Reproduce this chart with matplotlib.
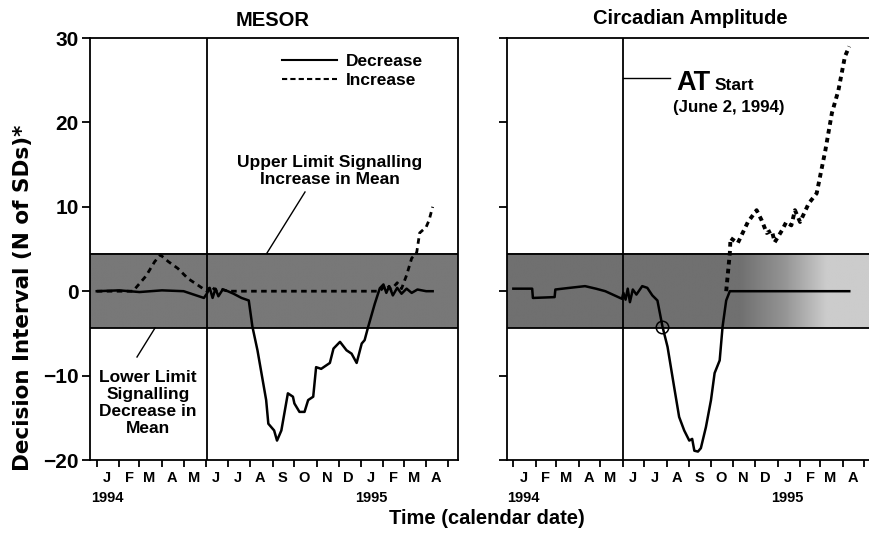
#Decision interval CUSUM charts: MESOR and circadian amplitude
import matplotlib
matplotlib.use('Agg')
import matplotlib.pyplot as plt
import matplotlib.dates as mdates
from matplotlib.lines import Line2D
import numpy as np
import pandas as pd

plt.rcParams['font.family'] = ['Liberation Sans', 'DejaVu Sans']
plt.rcParams['font.weight'] = 'bold'

#################################################################################
# Data
#################################################################################
# MESOR, decrease (solid)
t_mesor_dec = ['1994-01-01', '1994-02-01', '1994-03-01', '1994-04-01', '1994-05-01',
               '1994-05-29', '1994-06-02', '1994-06-06', '1994-06-10', '1994-06-14',
               '1994-06-18', '1994-06-24', '1994-07-01', '1994-07-09', '1994-07-20',
               '1994-07-30', '1994-08-04', '1994-08-11', '1994-08-23', '1994-08-26',
               '1994-09-03', '1994-09-07', '1994-09-13', '1994-09-22', '1994-09-29',
               '1994-10-01', '1994-10-08', '1994-10-15', '1994-10-20', '1994-10-27',
               '1994-10-31', '1994-11-07', '1994-11-19', '1994-11-24', '1994-12-03',
               '1994-12-12', '1994-12-19', '1994-12-26', '1995-01-02', '1995-01-06',
               '1995-01-11', '1995-01-20', '1995-01-27', '1995-02-01', '1995-02-05',
               '1995-02-09', '1995-02-14', '1995-02-20', '1995-02-26', '1995-03-05',
               '1995-03-12', '1995-03-20', '1995-04-01', '1995-04-10']
mesor_dec = [0.0, 0.1, -0.1, 0.1, 0.0,
             -0.8, -0.3, 0.4, -0.8, 0.3,
             -0.6, 0.2, 0.0, -0.3, -0.8,
             -1.1, -4.2, -7.0, -12.9, -15.7,
             -16.5, -17.7, -16.5, -12.1, -12.5,
             -13.3, -14.3, -14.3, -12.9, -12.5,
             -9.0, -9.2, -8.5, -6.8, -6.0,
             -7.0, -7.4, -8.5, -6.2, -5.8,
             -4.2, -1.5, 0.35, 0.8, -0.2,
             0.6, -0.5, 0.4, -0.3, 0.3,
             -0.2, 0.2, 0.0, 0.0]

# MESOR, increase (dashed)
t_mesor_inc = ['1994-01-01', '1994-02-20', '1994-03-10', '1994-03-22', '1994-03-30',
               '1994-04-10', '1994-04-23', '1994-05-07', '1994-05-21', '1994-06-02',
               '1994-06-08', '1994-06-14', '1994-06-20', '1994-07-01', '1995-01-27',
               '1995-02-05', '1995-02-12', '1995-02-20', '1995-02-26', '1995-03-05',
               '1995-03-12', '1995-03-19', '1995-03-23', '1995-04-01', '1995-04-05',
               '1995-04-10']
mesor_inc = [0.0, 0.0, 1.8, 3.5, 4.3,
             3.5, 2.7, 1.5, 0.7, 0.0,
             0.6, 0.1, 0.3, 0.0, 0.0,
             0.8, 0.2, 1.0, 0.3, 1.9,
             3.9, 4.6, 6.9, 7.6, 8.4,
             10.0]

# Circadian amplitude, decrease (solid)
t_amp_dec = ['1994-01-01', '1994-01-27', '1994-01-28', '1994-02-27', '1994-02-28',
             '1994-03-20', '1994-04-10', '1994-04-25', '1994-05-08', '1994-05-31',
             '1994-06-02', '1994-06-05', '1994-06-08', '1994-06-11', '1994-06-15',
             '1994-06-20', '1994-06-28', '1994-07-05', '1994-07-12', '1994-07-19',
             '1994-07-26', '1994-08-02', '1994-08-11', '1994-08-18', '1994-08-25',
             '1994-09-01', '1994-09-05', '1994-09-08', '1994-09-13', '1994-09-17',
             '1994-09-24', '1994-10-01', '1994-10-06', '1994-10-13', '1994-10-17',
             '1994-10-22', '1994-10-27', '1995-04-10']
amp_dec = [0.3, 0.3, -0.8, -0.7, 0.2,
           0.4, 0.6, 0.3, 0.0, -0.9,
           -0.2, -1.0, 0.3, -1.3, 0.2,
           -0.4, 0.6, 0.4, -0.5, -1.1,
           -4.2, -6.6, -11.3, -14.9, -16.5,
           -17.7, -17.5, -18.9, -19.0, -18.6,
           -16.1, -12.9, -9.7, -8.2, -4.2,
           -1.1, 0.0, 0.0]

# Circadian amplitude, increase (dashed)
t_amp_inc = ['1994-10-22', '1994-10-27', '1994-10-28', '1994-11-07', '1994-11-21',
             '1994-12-03', '1994-12-10', '1994-12-17', '1994-12-24', '1994-12-28',
             '1995-01-07', '1995-01-13', '1995-01-20', '1995-01-25', '1995-02-01',
             '1995-02-13', '1995-02-24', '1995-03-08', '1995-03-17', '1995-03-26',
             '1995-04-04', '1995-04-10']
amp_inc = [0.0, 4.5, 6.3, 5.7, 8.2,
           9.6, 8.4, 6.9, 7.2, 5.8,
           7.2, 8.2, 7.8, 9.6, 8.2,
           10.4, 11.6, 16.7, 21.1, 23.8,
           27.8, 29.0]

# signal crossing the lower limit
t_signal = '1994-07-26'
signal_val = -4.2

limit = 4.4
at_start = '1994-06-02'

months = ['J', 'F', 'M', 'A', 'M', 'J', 'J', 'A', 'S', 'O', 'N', 'D', 'J', 'F', 'M', 'A']
years = ['1994', '1995']
year_dates = ['1994-01-15', '1995-01-15']

#################################################################################
# Helpers
#################################################################################
W, H = 870, 533


def num(d):
    return mdates.date2num(pd.to_datetime(d).to_pydatetime())


def fx(px):
    return px / W


def fy(py):
    return 1 - py / H


x0 = num('1993-12-22 16:00')
x1 = num('1995-05-15')

month_starts = num(pd.date_range('1994-01-01', '1995-05-01', freq='MS'))
month_mids = num(pd.date_range('1994-01-01', periods=len(months), freq='MS') + pd.Timedelta(days=14))

fig = plt.figure(figsize=(W / 100, H / 100), dpi=100)
ax1 = fig.add_axes([fx(90), fy(460), 368 / W, 422 / H])
ax2 = fig.add_axes([fx(506.6), fy(460), 368 / W, 422 / H])

# band shading: flat grey on the left, fading out in 1995 on the right
xs = np.linspace(x0, x1, 600)
shade_left = np.full_like(xs, 0.47)
shade_right = np.interp(xs, num(['1994-11-10', '1995-01-10', '1995-03-10']), [0.44, 0.58, 0.80])

for ax, shade in ((ax1, shade_left), (ax2, shade_right)):
    ax.imshow(np.tile(shade, (2, 1)), cmap='gray', vmin=0, vmax=1, extent=[x0, x1, -limit, limit],
              aspect='auto', interpolation='bilinear', zorder=0)
    ax.axhline(limit, color='k', lw=1.3, zorder=2)
    ax.axhline(-limit, color='k', lw=1.3, zorder=2)
    ax.axvline(num(at_start), color='k', lw=1.3, zorder=2)
    ax.set_xlim(x0, x1)
    ax.set_ylim(-20, 30)
    ax.set_yticks([-20, -10, 0, 10, 20, 30])
    ax.set_xticks(month_starts)
    ax.set_xticklabels([])
    ax.set_xticks(month_mids, minor=True)
    ax.set_xticklabels(months, minor=True, fontsize=10.5, fontweight='bold')
    ax.tick_params(axis='x', which='major', direction='out', length=5, width=1.3)
    ax.tick_params(axis='x', which='minor', length=0, pad=8)
    ax.tick_params(axis='y', direction='out', length=6, width=1.3, labelsize=15, pad=2)
    for s in ax.spines.values():
        s.set_linewidth(1.3)
    for yr, d in zip(years, year_dates):
        ax.text(num(d), -0.09, yr, transform=ax.get_xaxis_transform(), ha='center', va='center',
                fontsize=10.5, fontweight='bold')

ax2.set_yticklabels([])
ax2.spines['right'].set_visible(False)

# MESOR
ax1.plot(num(t_mesor_dec), mesor_dec, color='k', lw=1.8, zorder=3)
ax1.plot(num(t_mesor_inc), mesor_inc, color='k', lw=2.0, ls=(0, (2, 1.6)), zorder=3)

# Circadian amplitude
ax2.plot(num(t_amp_dec), amp_dec, color='k', lw=1.8, zorder=3)
ax2.plot(num(t_amp_inc), amp_inc, color='k', lw=2.8, ls=(0, (1.2, 1.1)), zorder=3)
ax2.plot(num(t_signal), signal_val, 'o', ms=9, mfc='none', mec='k', mew=1.1, zorder=4)

handles = [Line2D([], [], color='k', lw=1.5),
           Line2D([], [], color='k', lw=1.5, ls=(0, (2.5, 1.5)))]
ax1.legend(handles, ['Decrease', 'Increase'], loc='upper right', bbox_to_anchor=(0.905, 0.962),
           frameon=False, fontsize=12.5, handlelength=3.2, handletextpad=0.5,
           labelspacing=0.2, borderpad=0, borderaxespad=0)

# titles and axis labels
fig.text(fx(273), fy(20), 'MESOR', ha='center', va='center', fontsize=14.5, fontweight='bold')
fig.text(fx(690), fy(19), 'Circadian Amplitude', ha='center', va='center', fontsize=14.5, fontweight='bold')
fig.text(fx(487), fy(519), 'Time (calendar date)', ha='center', va='center', fontsize=14.5, fontweight='bold')
fig.text(fx(23), fy(298), 'Decision Interval (N of SDs)*', ha='center', va='center', rotation=90,
         fontsize=15.5, fontweight='bold', family='DejaVu Sans')

# annotations, MESOR
fig.text(fx(330), fy(171), 'Upper Limit Signalling\nIncrease in Mean', ha='center', va='center',
         fontsize=12.5, fontweight='bold', linespacing=1.15)
fig.add_artist(Line2D([fx(305), fx(267)], [fy(192), fy(253)], color='k', lw=1.0))
fig.text(fx(148), fy(403), 'Lower Limit\nSignalling\nDecrease in\nMean', ha='center', va='center',
         fontsize=12.5, fontweight='bold', linespacing=1.15)
fig.add_artist(Line2D([fx(137), fx(155)], [fy(357), fy(328)], color='k', lw=1.0))

# annotations, amplitude
fig.add_artist(Line2D([fx(623), fx(670)], [fy(78), fy(78)], color='k', lw=1.0))
fig.text(fx(676), fy(90), 'AT', ha='left', va='baseline', fontsize=19.5, fontweight='bold')
fig.text(fx(715), fy(90), 'Start', ha='left', va='baseline', fontsize=12.5, fontweight='bold')
fig.text(fx(673), fy(108), '(June 2, 1994)', ha='left', va='center', fontsize=12.2, fontweight='bold')

plt.savefig('out.png', dpi=100)
